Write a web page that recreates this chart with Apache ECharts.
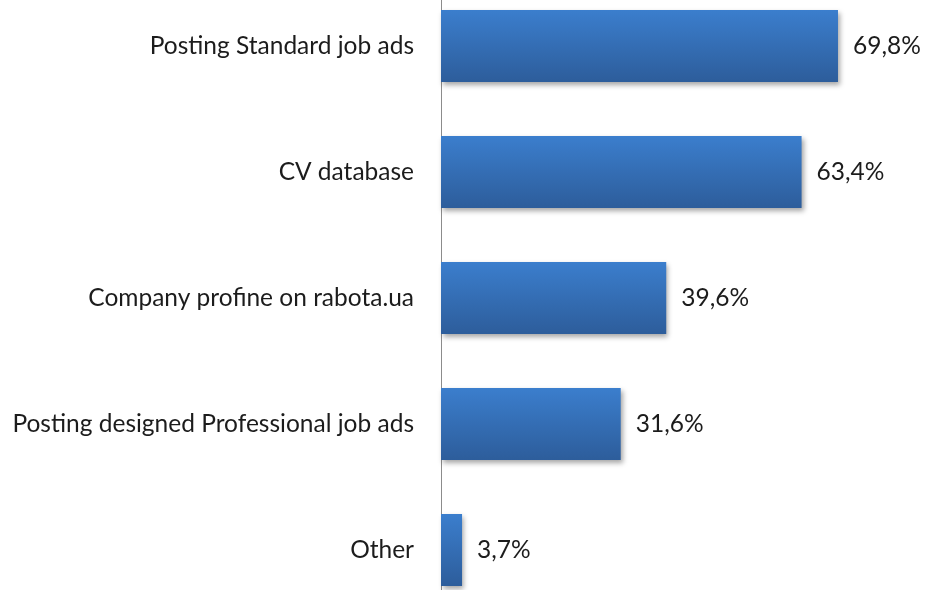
<!DOCTYPE html>
<html>
<head>
<meta charset="utf-8">
<script src="https://cdn.jsdelivr.net/npm/echarts@6/dist/echarts.min.js"></script>
<style>
html,body{margin:0;padding:0;background:#fff;overflow:hidden;width:926px;height:590px;}
#chart{width:926px;height:630px;margin-top:-17px;}
</style>
</head>
<body>
<div id="chart"></div>
<script>
var categories = ["Posting Standard job ads", "CV database", "Company profine on rabota.ua", "Posting designed Professional job ads", "Other"];
var values = [69.8, 63.4, 39.6, 31.6, 3.7];
var valueLabels = ["69,8%", "63,4%", "39,6%", "31,6%", "3,7%"];

var chart = echarts.init(document.getElementById('chart'));
var FONT = 'Lato';
chart.setOption({
  animation: false,
  backgroundColor: '#ffffff',
  grid: { left: 441, right: 30, top: 0, bottom: 0, containLabel: false },
  xAxis: { type: 'value', min: 0, max: 80, show: false },
  yAxis: {
    type: 'category', data: categories, inverse: true,
    axisLine: { show: true, lineStyle: { color: '#8c8c8c', width: 1 } },
    axisTick: { show: false },
    axisLabel: { margin: 27, fontFamily: FONT, fontSize: 24.5, color: '#1c1c1c' }
  },
  series: [{
    type: 'bar',
    data: values,
    barWidth: 72,
    itemStyle: {
      color: new echarts.graphic.LinearGradient(0, 0, 0, 1, [
        { offset: 0, color: '#3b7ecd' },
        { offset: 1, color: '#2d5d9b' }
      ]),
      shadowColor: 'rgba(0,0,0,0.35)', shadowBlur: 5, shadowOffsetX: 2, shadowOffsetY: 3
    },
    label: {
      show: true, position: 'right', distance: 15,
      fontFamily: FONT, fontSize: 24.5, color: '#1c1c1c',
      formatter: function (p) { return valueLabels[p.dataIndex]; }
    }
  }]
});
</script>
</body>
</html>
